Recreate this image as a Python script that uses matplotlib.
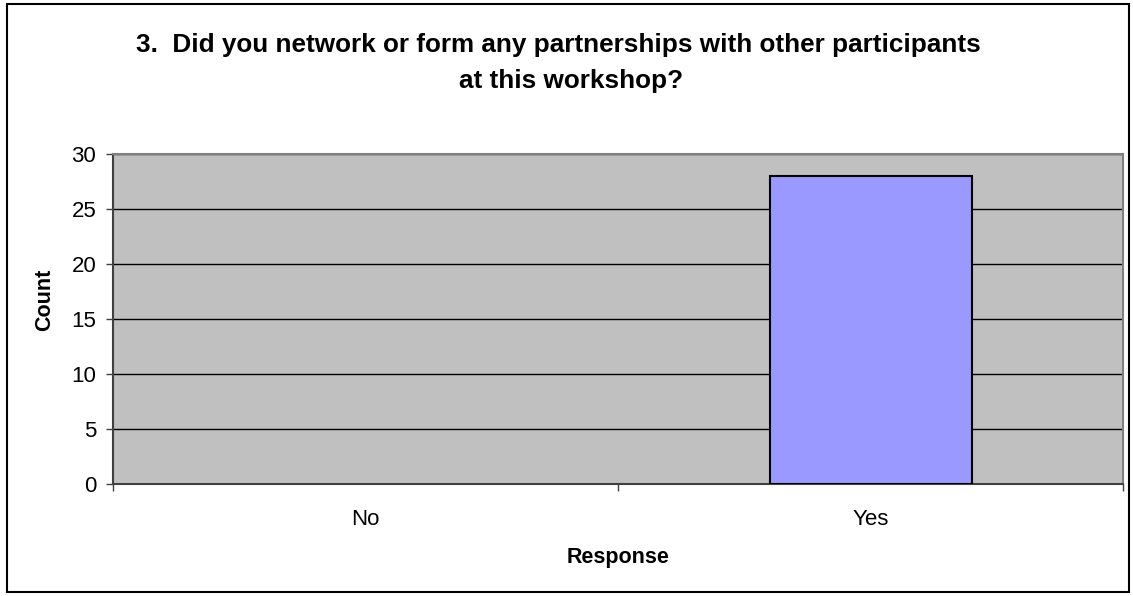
import matplotlib
matplotlib.use("Agg")
import matplotlib.pyplot as plt
from matplotlib.patches import Rectangle

categories = ["No", "Yes"]
counts = [0, 28]
y_ticks = [0, 5, 10, 15, 20, 25, 30]
title_lines = ["3.  Did you network or form any partnerships with other participants",
               "at this workshop?"]

plt.rcParams['font.family'] = ['Liberation Sans', 'DejaVu Sans']

W, H = 1133, 596
fig = plt.figure(figsize=(W / 100, H / 100), dpi=100)
fig.patch.set_facecolor("white")

# outer border
fig.patches.append(Rectangle((7 / W, 4 / H), (1129 - 7) / W, (592 - 4) / H,
                             transform=fig.transFigure, fill=False,
                             edgecolor="black", linewidth=1.5))

left, right, top, bottom = 113, 1123, 154, 484
ax = fig.add_axes([left / W, (H - bottom) / H, (right - left) / W, (bottom - top) / H])
ax.set_facecolor("#C0C0C0")

xs = list(range(len(categories)))
lws = [1.5 if c > 0 else 0 for c in counts]
ax.bar(xs, counts, width=0.4, color="#9999FF", edgecolor="black", linewidth=lws, zorder=3)

ax.set_xlim(-0.5, len(categories) - 0.5)
ax.set_ylim(y_ticks[0], y_ticks[-1])
ax.set_yticks(y_ticks)
ax.set_yticklabels([str(v) for v in y_ticks], fontsize=16)
ax.yaxis.grid(True, color="black", linewidth=1, zorder=1)
ax.set_axisbelow(True)

ax.set_xticks([i - 0.5 for i in range(len(categories) + 1)])
ax.set_xticklabels([])
ax.set_xticks(xs, minor=True)
ax.set_xticklabels(categories, minor=True, fontsize=16)
ax.tick_params(axis="x", which="major", length=5, width=1, color="#404040", direction="out")
ax.tick_params(axis="x", which="minor", length=0, pad=18)
ax.tick_params(axis="y", length=5, width=1, color="#404040", direction="out", pad=7)

for s in ["left", "bottom"]:
    ax.spines[s].set_color("#404040")
    ax.spines[s].set_linewidth(1.5)
for s in ["top", "right"]:
    ax.spines[s].set_color("#808080")
    ax.spines[s].set_linewidth(1.5)

fig.text(45 / W, 1 - 300 / H, "Count", rotation=90, ha="center", va="center",
         fontsize=15.5, fontweight="bold")
fig.text(618 / W, 1 - 557 / H, "Response", ha="center", va="center",
         fontsize=15.5, fontweight="bold")
fig.text(558 / W, 1 - 52 / H, title_lines[0], ha="center", va="baseline",
         fontsize=18.8, fontweight="bold")
fig.text(571 / W, 1 - 88 / H, title_lines[1], ha="center", va="baseline",
         fontsize=18.8, fontweight="bold")

fig.savefig("out.png", dpi=100)
